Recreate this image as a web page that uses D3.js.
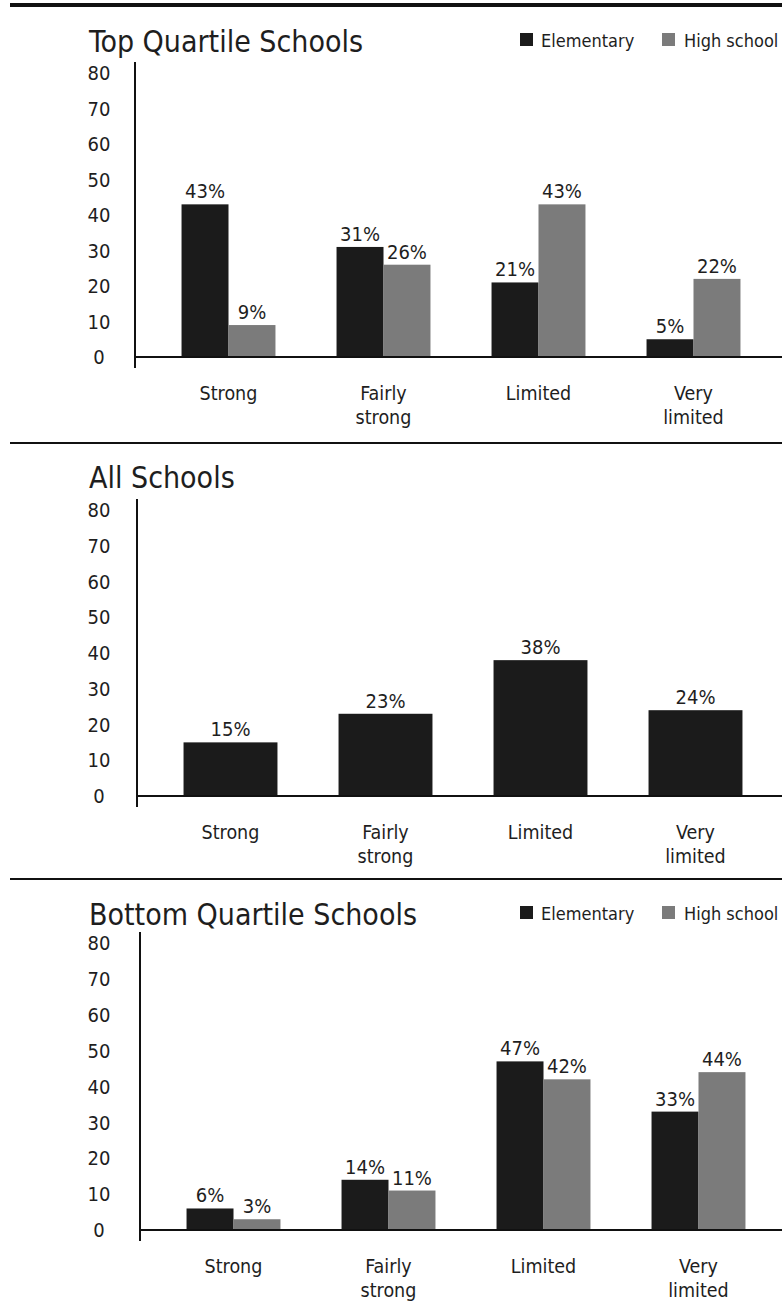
<!DOCTYPE html>
<html><head><meta charset="utf-8">
<script src="https://cdn.jsdelivr.net/npm/d3@7"></script>
<style>
html,body{margin:0;padding:0;background:#fff;}
svg{display:block;}
text{font-family:"Liberation Sans Narrow","Arial Narrow","DejaVu Sans Condensed",sans-serif;fill:#1e1e1e;}
</style></head>
<body>
<script>
const categories = ["Strong", "Fairly strong", "Limited", "Very limited"];
const categoryLines = [["Strong"], ["Fairly", "strong"], ["Limited"], ["Very", "limited"]];
const seriesNames = ["Elementary", "High school"];
const topElementary = [43, 31, 21, 5];
const topHighSchool = [9, 26, 43, 22];
const allSchools = [15, 23, 38, 24];
const bottomElementary = [6, 14, 47, 33];
const bottomHighSchool = [3, 11, 42, 44];
const yTicks = [0, 10, 20, 30, 40, 50, 60, 70, 80];
const panelTitles = ["Top Quartile Schools", "All Schools", "Bottom Quartile Schools"];

const W = 782, H = 1306;
const colors = {"Elementary": "#1b1b1b", "High school": "#7b7b7b", "All": "#1b1b1b"};

const svg = d3.select("body").append("svg").attr("width", W).attr("height", H);

const panels = [
  {title: panelTitles[0], series: [{name: "Elementary", values: topElementary}, {name: "High school", values: topHighSchool}],
   rule: 5, ruleW: 4, titleY: 52, y80: 73, y0: 357, axisX: 135, legend: true, legendY: 40},
  {title: panelTitles[1], series: [{name: "All", values: allSchools}],
   rule: 443, ruleW: 2.2, titleY: 488, y80: 510, y0: 796, axisX: 137, legend: false},
  {title: panelTitles[2], series: [{name: "Elementary", values: bottomElementary}, {name: "High school", values: bottomHighSchool}],
   rule: 879, ruleW: 2.2, titleY: 925, y80: 943, y0: 1230, axisX: 140, legend: true, legendY: 913}
];

panels.forEach(p => {
  const g = svg.append("g");
  g.append("line").attr("x1", 10).attr("x2", W).attr("y1", p.rule).attr("y2", p.rule)
    .attr("stroke", "#111").attr("stroke-width", p.ruleW);
  g.append("text").attr("x", 89).attr("y", p.titleY).attr("font-size", 30).text(p.title);

  const y = d3.scaleLinear().domain([0, 80]).range([p.y0, p.y80]);
  const x = d3.scaleBand().domain(categories).range([p.axisX + 16, p.axisX + 636])
    .paddingInner(0.394).paddingOuter(0.197);
  const xs = d3.scaleBand().domain(p.series.map(s => s.name)).range([0, x.bandwidth()]);

  g.append("g").selectAll("text").data(yTicks).join("text")
    .attr("x", 99).attr("y", d => y(d)).attr("dy", "0.36em")
    .attr("text-anchor", "middle").attr("font-size", 20).text(d => d);

  p.series.forEach(s => {
    g.append("g").selectAll("rect").data(s.values).join("rect")
      .attr("x", (d, i) => x(categories[i]) + xs(s.name))
      .attr("width", xs.bandwidth())
      .attr("y", d => y(d))
      .attr("height", d => y(0) - y(d))
      .attr("fill", colors[s.name]);
    g.append("g").selectAll("text").data(s.values).join("text")
      .attr("x", (d, i) => x(categories[i]) + xs(s.name) + xs.bandwidth() / 2)
      .attr("y", d => y(d) - 6)
      .attr("text-anchor", "middle").attr("font-size", 20).text(d => d + "%");
  });

  g.append("line").attr("x1", p.axisX).attr("x2", p.axisX)
    .attr("y1", p.y80 - 11).attr("y2", p.y0 + 11).attr("stroke", "#111").attr("stroke-width", 2);
  g.append("line").attr("x1", p.axisX).attr("x2", W)
    .attr("y1", p.y0).attr("y2", p.y0).attr("stroke", "#111").attr("stroke-width", 2);

  const cg = g.append("g").selectAll("text").data(categories).join("text")
    .attr("x", d => x(d) + x.bandwidth() / 2)
    .attr("y", p.y0 + 43)
    .attr("text-anchor", "middle").attr("font-size", 19.5);
  cg.each(function(d, i) {
    const t = d3.select(this);
    categoryLines[i].forEach((line, j) => {
      t.append("tspan").attr("x", x(d) + x.bandwidth() / 2).attr("dy", j === 0 ? 0 : 24).text(line);
    });
  });

  if (p.legend) {
    const lg = g.append("g");
    const items = [{name: seriesNames[0], sx: 520, tx: 541}, {name: seriesNames[1], sx: 662, tx: 684}];
    items.forEach(it => {
      lg.append("rect").attr("x", it.sx).attr("y", p.legendY - 7).attr("width", 13).attr("height", 13)
        .attr("fill", colors[it.name]);
      lg.append("text").attr("x", it.tx).attr("y", p.legendY + 7).attr("font-size", 18).text(it.name);
    });
  }
});
</script>
</body></html>
